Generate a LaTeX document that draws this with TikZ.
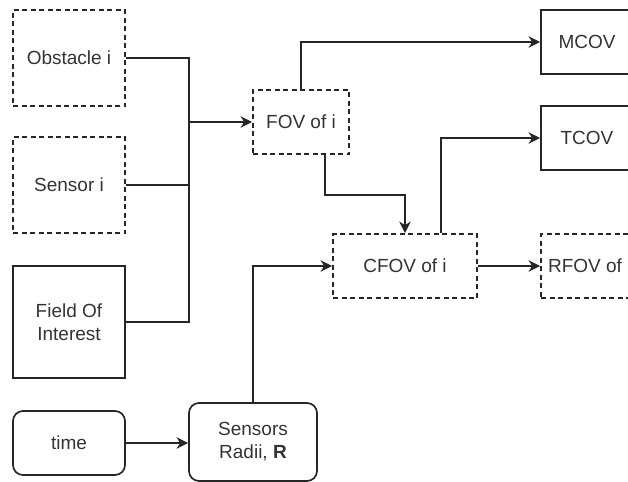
\documentclass[tikz,border=0pt]{standalone}
\usepackage{fontspec}
\setmainfont{Liberation Sans}
\usetikzlibrary{arrows.meta,calc}
\begin{document}
\begin{tikzpicture}[x=0.5pt,y=-0.5pt,
  every node/.style={font=\fontsize{9.5pt}{11.5pt}\selectfont, text=black!80, align=center, inner sep=0pt},
  box/.style={draw=black!85, line width=0.85pt, minimum width=56pt, minimum height=32pt},
  dbox/.style={box, dash pattern=on 2.5pt off 1.75pt},
  rbox/.style={box, rounded corners=5pt},
  conn/.style={draw=black!85, line width=0.85pt},
  arr/.style={conn, -{Stealth[length=5.8pt,width=5.8pt,inset=1.8pt]}}]
\useasboundingbox (0,0) rectangle (628,482);
\clip (0,0) rectangle (628,482);
\node[dbox, minimum height=48pt] (obs) at (69,58) {Obstacle i};
\node[dbox, minimum height=48pt] (sen) at (69,185) {Sensor i};
\node[box, minimum height=56pt] (foi) at (69,322) {Field Of\\Interest};
\node[rbox] (time) at (69,443) {time};
\node[rbox, minimum width=64pt, minimum height=39pt] (rad) at (253,442) {Sensors\\Radii, \textbf{R}};
\node[dbox, minimum width=48pt] (fov) at (301,122) {FOV of i};
\node[dbox, minimum width=72pt] (cfov) at (405,266) {CFOV of i};
\node[box, minimum width=46pt] (mcov) at (587,42) {MCOV};
\node[box, minimum width=46pt] (tcov) at (587,138) {TCOV};
\node[dbox, minimum width=44pt] (rfov) at (585,266) {RFOV of};
\coordinate (j) at (189,122);
\draw[conn] (obs.east) -| (j);
\draw[conn] (sen.east) -| (j);
\draw[conn] (foi.east) -| (j);
\draw[arr] (j) -- (fov.west);
\draw[arr] (fov.north) |- (mcov.west);
\draw[arr] ($(fov.south)+(24,0)$) -- ++(0,40) -| (cfov.north);
\draw[arr] ($(cfov.north)+(36,0)$) |- (tcov.west);
\draw[arr] (cfov.east) -- (rfov.west);
\draw[arr] (rad.north) |- (cfov.west);
\draw[arr] (time.east) -- (time.east -| rad.west);
\end{tikzpicture}
\end{document}
